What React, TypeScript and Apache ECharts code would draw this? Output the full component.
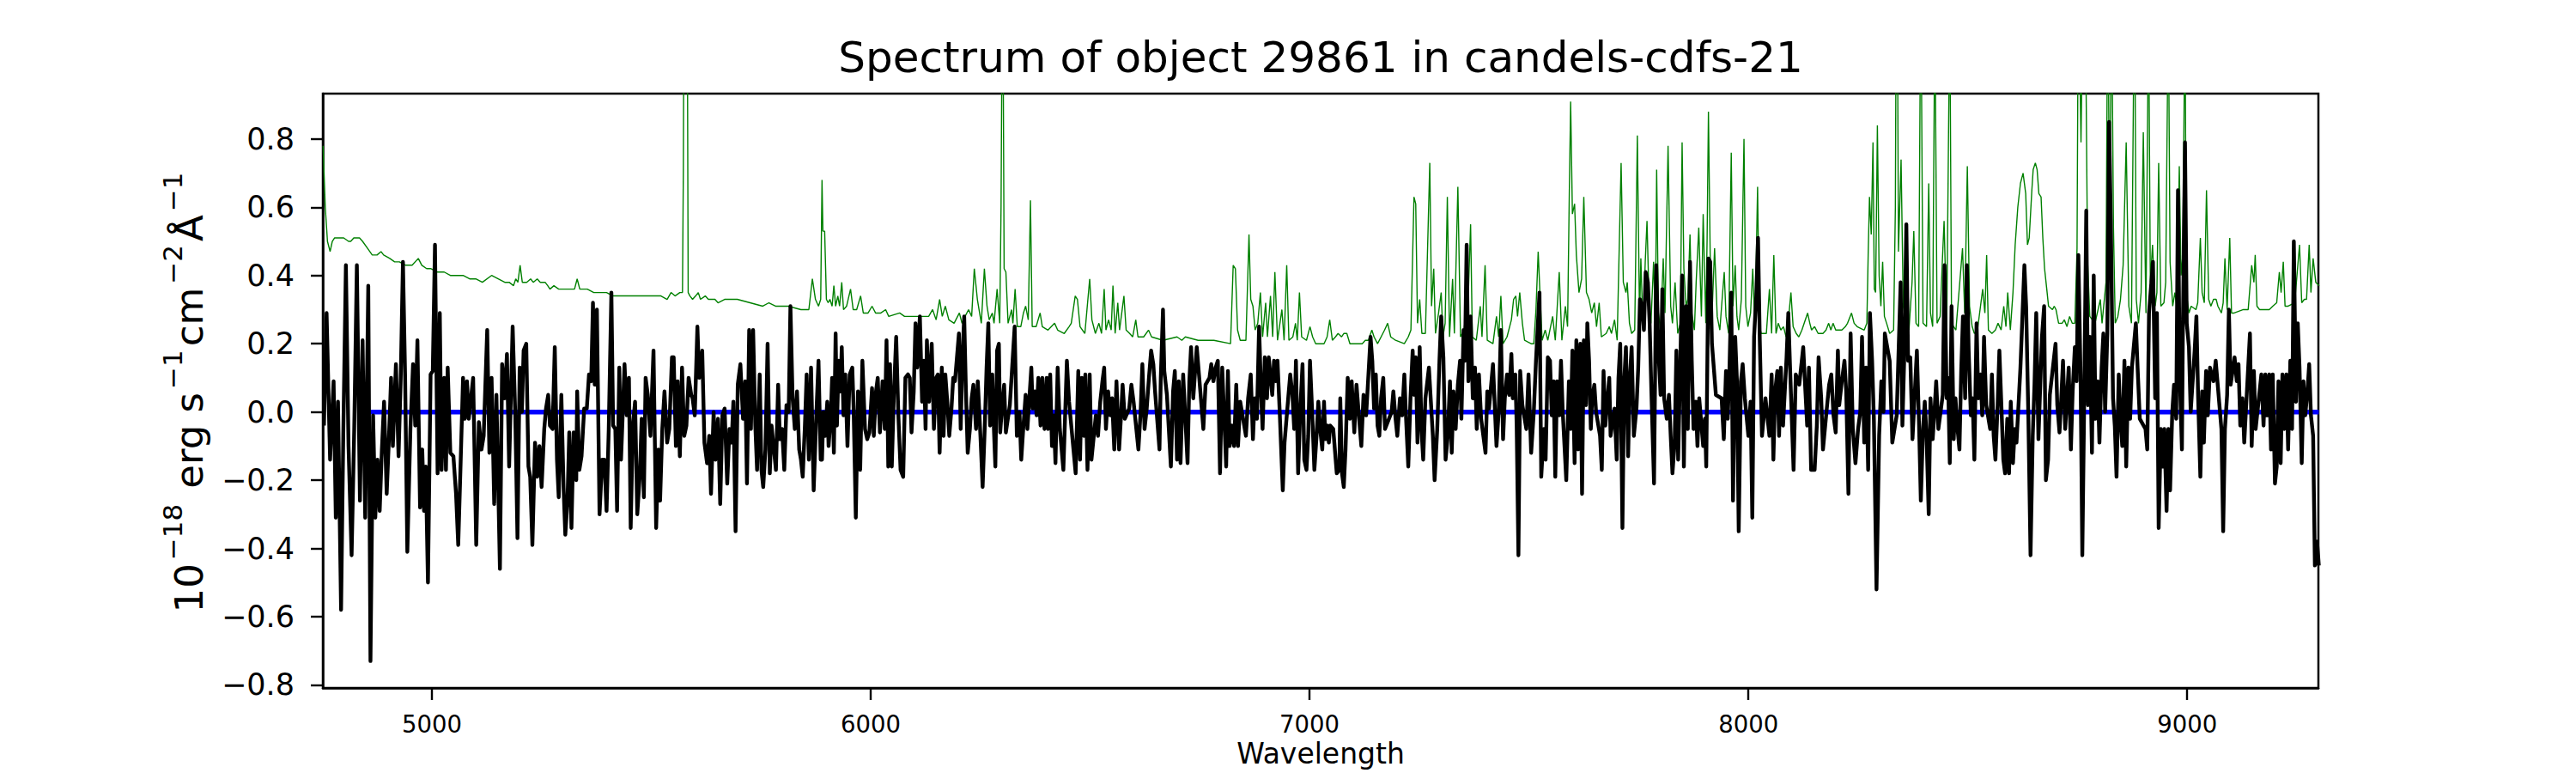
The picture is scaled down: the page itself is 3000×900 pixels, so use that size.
import React, { useEffect, useRef } from "react";
import * as echarts from "echarts";

const TITLE = "Spectrum of object 29861 in candels-cdfs-21";
const X_LABEL = "Wavelength";
const xTicks = [5000, 6000, 7000, 8000, 9000];
const yTicks = [-0.8, -0.6, -0.4, -0.2, 0.0, 0.2, 0.4, 0.6, 0.8];
const xRange = [4751.5, 9299];
const yRange = [-0.809, 0.933];
const zeroLine = [[4860, 0], [9300, 0]];

// object spectrum (black), wavelength [Å], flux [1e-18 erg/s/cm2/Å]
const fluxA = [[4754,-0.04],[4760,0.29],[4768,-0.14],[4776,0.09],[4781,-0.31],[4786,0.03],[4793,-0.58],[4798,-0.07],[4804,0.43],[4810,-0.10],[4817,-0.42],[4823,-0.05],[4829,0.43],[4836,-0.26],[4842,0.21],[4848,-0.31],[4855,0.37],[4860,-0.73],[4866,-0.01],[4871,-0.31],[4876,-0.14],[4881,-0.29],[4886,-0.11],[4891,0.03],[4897,-0.24],[4902,-0.08],[4907,0.10],[4911,-0.10],[4918,0.14],[4924,-0.13],[4929,0.10],[4934,0.44],[4939,0.10],[4944,-0.41],[4951,-0.05],[4957,0.14],[4962,-0.04],[4967,0.21],[4973,-0.28],[4978,-0.11],[4982,-0.29],[4986,-0.16],[4991,-0.50],[4997,0.11],[5002,0.12],[5007,0.49],[5013,-0.18],[5018,0.29],[5022,-0.17],[5028,0.10],[5032,-0.17],[5036,0.13],[5042,-0.12],[5049,-0.13],[5055,-0.24],[5060,-0.39],[5065,-0.17],[5071,0.10],[5075,-0.02],[5080,0.09],[5084,-0.02],[5089,0.04],[5094,0.10],[5101,-0.39],[5107,-0.03],[5113,-0.11],[5118,-0.07],[5126,0.24],[5131,-0.12],[5136,0.10],[5142,-0.27],[5147,0.05],[5155,-0.46],[5160,0.14],[5166,0.04],[5171,0.17],[5176,-0.16],[5184,0.25],[5190,-0.01],[5195,-0.37],[5200,0.13],[5205,0.00],[5209,0.18],[5215,0.20],[5220,-0.16],[5224,-0.19],[5229,-0.39],[5235,-0.09],[5240,-0.19],[5245,-0.10],[5250,-0.22],[5256,-0.05],[5260,0.01],[5265,0.05],[5269,-0.04],[5275,-0.05],[5280,0.19],[5285,-0.14],[5289,-0.25],[5295,0.05],[5300,-0.22],[5304,-0.36],[5309,-0.26],[5313,-0.06],[5318,-0.34],[5323,-0.06],[5329,-0.20],[5331,0.06],[5336,-0.17],[5341,-0.13],[5347,0.01],[5353,0.01],[5358,0.11],[5363,0.09],[5367,0.32],[5371,0.08],[5376,0.30],[5382,-0.30],[5388,-0.14],[5393,-0.14],[5398,-0.29],[5403,-0.05],[5409,0.35],[5413,-0.04],[5418,-0.05],[5422,-0.29],[5427,0.13],[5431,-0.14],[5439,0.14],[5444,-0.01],[5449,0.10],[5453,-0.34],[5458,-0.04],[5463,0.03],[5468,-0.30],[5474,-0.18],[5478,-0.02],[5483,-0.25],[5487,0.10],[5492,0.05],[5498,-0.07],[5505,0.18],[5511,-0.34],[5516,-0.11],[5520,-0.26],[5525,-0.05],[5530,0.06],[5536,-0.09],[5541,-0.05],[5547,0.16],[5551,0.16],[5556,-0.10],[5560,0.09],[5565,-0.13],[5570,0.13],[5575,-0.07],[5580,-0.04],[5585,0.10],[5591,0.05],[5594,0.04],[5599,-0.01],[5605,0.25],[5609,0.10],[5616,0.18],[5621,-0.09],[5627,-0.15],[5632,-0.07],[5636,-0.24],[5642,0.00],[5646,-0.14],[5652,-0.02],[5657,-0.27],[5662,-0.01],[5667,0.01],[5673,-0.21],[5678,-0.05],[5683,-0.09],[5687,0.03],[5692,-0.35],[5697,0.08],[5703,0.14],[5709,-0.02],[5714,0.09],[5718,-0.21],[5723,0.24],[5727,-0.05],[5732,0.24],[5737,-0.04],[5741,-0.17],[5747,0.11],[5751,-0.17],[5755,-0.22],[5760,-0.11],[5765,0.20],[5770,-0.18],[5774,-0.04],[5784,-0.17],[5789,0.08],[5793,-0.08],[5798,-0.05],[5803,-0.17],[5808,0.02],[5813,0.00],[5817,0.31],[5822,0.04],[5827,-0.05],[5832,0.06],[5837,-0.11],[5841,-0.14],[5845,-0.19],[5850,-0.04],[5854,0.11],[5859,-0.14],[5864,0.13],[5870,-0.23],[5876,-0.01],[5881,0.15],[5886,-0.14]];
const fluxB = [[5889,-0.14],[5892,0.00],[5896,-0.07],[5901,0.03],[5904,-0.10],[5909,-0.01],[5912,0.10],[5916,-0.12],[5920,0.23],[5923,-0.04],[5927,0.15],[5931,0.06],[5934,0.19],[5938,-0.01],[5942,0.11],[5947,-0.10],[5952,0.11],[5958,0.13],[5961,0.01],[5966,-0.31],[5971,0.06],[5976,-0.17],[5981,0.15],[5987,-0.05],[5992,-0.08],[5997,-0.06],[6003,0.07],[6007,-0.07],[6012,0.06],[6016,0.10],[6021,-0.06],[6027,0.09],[6032,-0.05],[6036,0.21],[6040,-0.16],[6044,0.14],[6048,-0.16],[6053,0.06],[6058,0.22],[6063,-0.01],[6068,-0.17],[6074,-0.19],[6079,0.10],[6085,0.11],[6089,0.10],[6093,-0.06],[6098,0.06],[6102,0.26],[6106,0.13],[6112,0.28],[6117,0.03],[6121,0.15],[6125,-0.05],[6128,0.21],[6133,0.03],[6139,0.20],[6144,-0.05],[6149,0.10],[6153,0.11],[6157,-0.12],[6162,0.13],[6166,-0.07],[6170,0.11],[6175,0.02],[6179,-0.07],[6184,0.01],[6188,0.10],[6192,0.09],[6201,0.23],[6205,-0.05],[6209,0.16],[6213,0.28],[6217,0.06],[6221,-0.12],[6226,-0.05],[6230,0.04],[6234,0.08],[6240,-0.05],[6244,0.09],[6250,-0.07],[6255,-0.22],[6260,-0.04],[6264,0.13],[6268,0.26],[6272,-0.04],[6277,0.11],[6281,-0.06],[6284,-0.16],[6288,0.18],[6292,0.20],[6295,-0.06],[6299,0.01],[6304,0.08],[6308,-0.06],[6317,0.02],[6328,0.25],[6333,-0.07],[6339,0.00],[6343,-0.14],[6348,-0.04],[6353,0.05],[6357,-0.05],[6366,0.13],[6369,0.01],[6374,0.06],[6378,-0.01],[6382,0.10],[6387,-0.04],[6391,0.10],[6396,-0.05],[6401,0.10],[6404,-0.05],[6409,0.11],[6413,-0.10],[6417,-0.01],[6421,-0.15],[6426,0.13],[6431,-0.05],[6439,-0.17],[6447,0.15],[6452,0.03],[6457,-0.04],[6467,-0.18],[6473,0.12],[6477,-0.14],[6481,0.10],[6486,-0.07],[6489,0.11],[6494,-0.17],[6499,0.11],[6503,-0.14],[6513,-0.01],[6518,-0.07],[6523,0.03],[6528,0.09],[6532,0.13],[6536,-0.05],[6541,0.06],[6546,-0.01],[6550,0.04],[6555,-0.11],[6560,0.09],[6566,-0.11],[6570,-0.02],[6574,0.08],[6579,-0.02],[6589,0.01],[6594,0.08],[6599,0.03],[6610,-0.11],[6615,0.00],[6619,0.14],[6624,-0.05],[6629,0.01],[6634,0.10],[6639,0.18],[6644,0.14],[6648,0.06],[6658,-0.11],[6661,0.10],[6666,0.30],[6669,0.12],[6675,0.05],[6684,-0.16],[6689,0.06],[6693,0.12],[6698,-0.14],[6702,0.09],[6706,-0.15],[6712,0.11],[6722,-0.15],[6726,0.09],[6730,0.19],[6735,0.04],[6743,0.19],[6748,0.11],[6758,-0.05],[6763,0.08],[6772,0.10],[6776,0.14],[6781,0.09],[6786,0.13],[6791,0.15],[6796,-0.18],[6801,0.13],[6810,-0.16],[6814,0.12],[6818,-0.10],[6823,-0.04],[6828,-0.10],[6833,0.08],[6837,-0.10],[6842,0.03],[6855,-0.07],[6860,0.04],[6866,0.11],[6871,-0.08],[6875,0.04],[6880,-0.02],[6885,0.25],[6890,0.04],[6893,-0.05],[6898,0.16],[6903,0.04],[6907,0.16],[6915,0.05],[6919,0.15],[6923,0.09],[6927,0.15],[6932,0.00],[6939,-0.23],[6943,-0.09],[6952,0.05],[6956,0.11],[6961,0.05],[6965,-0.05],[6969,0.15],[6974,-0.18],[6979,0.01],[6984,0.14],[6988,-0.14],[6993,-0.17],[6997,-0.07],[7001,0.15],[7006,0.00],[7011,-0.17],[7016,-0.07],[7020,0.03],[7025,-0.06]];
const fluxC = [[7029,-0.11],[7033,0.03],[7036,-0.08],[7040,-0.04],[7044,-0.09],[7047,-0.04],[7054,-0.05],[7062,-0.18],[7068,-0.17],[7070,0.04],[7074,-0.18],[7078,-0.22],[7082,-0.11],[7087,0.10],[7092,-0.02],[7096,0.09],[7102,-0.06],[7107,0.08],[7113,-0.02],[7118,-0.10],[7123,0.05],[7129,-0.01],[7139,0.22],[7143,0.15],[7147,0.01],[7151,0.11],[7155,-0.04],[7159,-0.07],[7163,0.04],[7168,0.10],[7172,-0.05],[7187,0.00],[7191,0.06],[7196,-0.02],[7200,-0.07],[7206,0.04],[7211,-0.01],[7216,0.11],[7220,-0.02],[7225,-0.16],[7230,0.04],[7235,0.18],[7238,0.05],[7242,0.16],[7246,-0.09],[7251,0.19],[7255,-0.05],[7259,-0.14],[7264,0.04],[7272,0.13],[7281,-0.07],[7285,-0.20],[7291,-0.05],[7296,0.15],[7300,0.28],[7305,0.16],[7310,-0.14],[7315,-0.07],[7320,0.09],[7324,-0.12],[7328,0.06],[7333,-0.05],[7338,0.08],[7343,0.15],[7346,-0.02],[7351,0.24],[7354,0.15],[7358,0.49],[7362,0.09],[7367,0.28],[7372,0.04],[7377,0.13],[7381,-0.05],[7386,0.11],[7391,-0.02],[7401,-0.12],[7405,0.06],[7409,0.01],[7418,0.14],[7426,-0.10],[7431,0.00],[7436,0.24],[7441,-0.08],[7445,0.04],[7450,0.11],[7455,0.05],[7460,0.17],[7463,0.04],[7469,0.11],[7472,-0.04],[7476,-0.42],[7480,0.12],[7485,0.02],[7494,-0.05],[7499,0.11],[7505,-0.12],[7511,0.00],[7516,0.15],[7524,0.35],[7528,-0.19],[7534,-0.05],[7538,-0.14],[7543,0.16],[7548,0.15],[7552,-0.01],[7556,0.09],[7560,-0.19],[7564,0.09],[7569,-0.01],[7573,0.15],[7577,0.00],[7585,-0.20],[7591,0.09],[7595,-0.05],[7599,0.18],[7604,-0.15],[7608,0.21],[7612,-0.11],[7617,0.20],[7621,-0.24],[7625,0.21],[7630,0.02],[7633,0.26],[7637,0.15],[7641,-0.05],[7644,0.04],[7649,0.08],[7653,0.00],[7662,-0.07],[7666,-0.17],[7670,0.12],[7674,-0.04],[7679,0.04],[7683,0.10],[7686,-0.07],[7695,0.01],[7700,-0.14],[7704,0.10],[7708,0.20],[7713,-0.34],[7717,0.09],[7721,0.19],[7726,-0.13],[7730,0.10],[7734,0.19],[7739,-0.07],[7745,0.01],[7749,0.13],[7753,0.33],[7758,0.31],[7762,0.24],[7766,0.41],[7771,0.38],[7775,0.26],[7779,0.06],[7785,-0.21],[7790,0.43],[7795,0.18],[7800,0.05],[7804,0.36],[7808,0.04],[7814,-0.02],[7819,0.05],[7823,-0.07],[7827,-0.18],[7832,-0.09],[7836,0.18],[7840,-0.14],[7845,0.15],[7849,0.40],[7853,-0.16],[7858,0.31],[7862,-0.05],[7867,0.44],[7871,0.15],[7875,-0.05],[7880,0.03],[7884,-0.10],[7888,0.04],[7897,-0.10],[7901,-0.02],[7904,-0.16],[7909,0.45],[7913,0.44],[7917,0.20],[7926,0.05],[7939,0.04],[7944,-0.08],[7949,0.12],[7953,-0.02],[7957,0.13],[7961,0.35],[7965,-0.26],[7970,0.22],[7974,0.09],[7978,-0.35],[7983,0.09],[7987,0.14],[7992,0.04],[8000,-0.07],[8005,0.03],[8009,-0.31],[8013,0.22],[8018,0.34],[8022,0.51],[8026,0.21],[8031,-0.07],[8039,0.04],[8048,-0.07],[8053,0.11],[8057,-0.14],[8061,0.06],[8066,0.12],[8070,-0.07],[8074,0.13],[8079,-0.04],[8087,0.16],[8091,0.29],[8095,0.13],[8103,-0.17],[8108,0.11],[8116,0.08],[8125,0.19],[8130,0.06],[8134,-0.04],[8138,0.13],[8143,-0.17],[8151,-0.17],[8156,-0.04],[8160,0.16]];
const fluxD = [[8166,0.04],[8170,-0.11],[8178,0.00],[8184,0.08],[8189,0.11],[8194,-0.01],[8199,-0.06],[8204,0.18],[8207,0.02],[8213,0.09],[8219,0.15],[8223,0.06],[8228,-0.24],[8233,0.23],[8238,-0.05],[8244,-0.15],[8250,-0.05],[8255,0.00],[8259,0.22],[8264,-0.09],[8268,0.13],[8273,-0.17],[8277,0.29],[8282,0.15],[8286,-0.02],[8292,-0.52],[8298,-0.07],[8303,0.09],[8308,0.00],[8311,0.23],[8322,0.15],[8328,-0.09],[8338,-0.01],[8347,0.38],[8351,-0.04],[8355,0.15],[8360,0.55],[8364,0.15],[8369,0.16],[8374,-0.08],[8384,0.18],[8389,-0.04],[8393,-0.26],[8398,-0.05],[8402,0.03],[8406,-0.07],[8411,-0.30],[8415,0.04],[8420,-0.08],[8424,0.00],[8428,0.09],[8433,-0.05],[8443,0.05],[8447,0.43],[8452,0.04],[8455,0.10],[8459,-0.15],[8463,0.31],[8468,-0.08],[8472,0.04],[8476,-0.04],[8481,-0.11],[8485,0.12],[8489,0.28],[8494,0.04],[8498,0.43],[8502,0.18],[8507,-0.01],[8511,0.04],[8515,-0.14],[8520,0.26],[8524,0.04],[8529,0.11],[8533,-0.01],[8537,0.22],[8542,0.02],[8551,-0.05],[8555,0.11],[8559,-0.07],[8563,-0.14],[8568,0.02],[8572,0.18],[8576,0.04],[8581,-0.14],[8585,-0.18],[8590,-0.02],[8594,-0.18],[8598,0.03],[8603,-0.15],[8607,-0.05],[8611,-0.09],[8616,0.03],[8620,0.13],[8629,0.43],[8633,0.31],[8638,-0.01],[8643,-0.42],[8648,-0.07],[8652,0.08],[8656,0.29],[8661,-0.08],[8669,0.22],[8674,0.31],[8678,-0.20],[8683,-0.14],[8687,0.05],[8700,0.20],[8704,0.02],[8709,-0.06],[8713,0.04],[8717,0.15],[8722,-0.05],[8730,0.13],[8735,-0.11],[8739,0.06],[8744,0.19],[8748,0.09],[8752,0.46],[8757,0.11],[8761,-0.42],[8765,0.00],[8770,0.59],[8774,0.02],[8778,0.22],[8783,-0.12],[8787,0.40],[8791,-0.02],[8796,0.09],[8800,-0.09],[8805,0.13],[8809,0.23],[8813,0.00],[8818,0.23],[8822,0.85],[8826,0.56],[8831,0.04],[8835,-0.04],[8839,-0.19],[8844,0.11],[8848,-0.02],[8852,-0.10],[8857,0.15],[8861,-0.16],[8866,0.13],[8870,-0.02],[8874,0.13],[8883,0.26],[8887,0.13],[8892,-0.02],[8905,-0.05],[8909,-0.11],[8913,0.29],[8922,0.44],[8927,0.04],[8931,0.29],[8935,-0.34],[8940,-0.05],[8944,-0.16],[8948,-0.05],[8953,-0.29],[8957,-0.05],[8961,-0.23],[8966,0.00],[8970,0.08],[8975,-0.02],[8979,0.65],[8983,0.11],[8988,-0.11],[8990,0.22],[8995,0.79],[8999,0.26],[9004,0.19],[9008,0.00],[9017,0.18],[9021,0.28],[9025,0.04],[9030,-0.19],[9034,0.06],[9038,-0.09],[9043,0.12],[9047,-0.01],[9052,0.13],[9060,0.09],[9065,0.15],[9078,-0.05],[9082,-0.35],[9086,-0.05],[9091,0.05],[9095,0.30],[9099,0.08],[9108,0.16],[9113,0.09],[9117,0.14],[9121,-0.04],[9126,0.04],[9130,-0.09],[9143,0.23],[9147,-0.10],[9152,0.12],[9156,-0.05],[9165,0.06],[9169,0.11],[9174,-0.04],[9178,0.11],[9182,-0.01],[9187,0.11],[9191,-0.11],[9195,0.11],[9200,-0.21],[9204,-0.16],[9208,0.09],[9213,-0.15],[9217,0.11],[9221,-0.05],[9226,0.11],[9230,-0.11],[9235,0.15],[9239,-0.05],[9243,0.50],[9248,0.03],[9252,0.26],[9256,0.13],[9261,-0.15],[9265,0.09],[9269,-0.01],[9274,0.06],[9278,0.14],[9282,-0.01],[9287,-0.07],[9291,-0.45],[9296,-0.38],[9300,-0.45]];

// sky / noise spectrum (green)
const skyA = [[4752,0.78],[4757,0.60],[4762,0.50],[4768,0.47],[4773,0.50],[4778,0.51],[4788,0.51],[4799,0.51],[4810,0.50],[4815,0.50],[4822,0.51],[4835,0.51],[4842,0.50],[4853,0.48],[4864,0.46],[4875,0.46],[4884,0.47],[4890,0.46],[4904,0.45],[4915,0.44],[4926,0.44],[4940,0.43],[4955,0.43],[4969,0.45],[4977,0.43],[4988,0.42],[4998,0.42],[5013,0.41],[5028,0.41],[5042,0.40],[5057,0.40],[5071,0.40],[5086,0.39],[5100,0.39],[5115,0.38],[5136,0.40],[5151,0.39],[5166,0.38],[5176,0.38],[5186,0.37],[5191,0.39],[5196,0.38],[5201,0.43],[5206,0.38],[5216,0.38],[5225,0.39],[5231,0.38],[5240,0.39],[5247,0.38],[5258,0.38],[5264,0.37],[5269,0.36],[5278,0.37],[5289,0.36],[5304,0.36],[5325,0.36],[5331,0.39],[5337,0.36],[5354,0.36],[5369,0.35],[5384,0.35],[5398,0.35],[5413,0.34],[5434,0.34],[5463,0.34],[5500,0.34],[5522,0.34],[5536,0.33],[5545,0.35],[5554,0.34],[5565,0.35],[5571,0.35],[5573,0.71],[5575,1.5],[5579,1.6],[5582,1.2],[5584,0.35],[5588,0.34],[5594,0.33],[5601,0.34],[5607,0.35],[5612,0.33],[5623,0.34],[5630,0.33],[5645,0.33],[5652,0.32],[5667,0.33],[5696,0.33],[5725,0.32],[5754,0.31],[5768,0.32],[5783,0.31],[5812,0.31],[5841,0.30],[5859,0.30],[5867,0.39],[5874,0.33],[5881,0.31],[5886,0.33]];
const skyB = [[5889,0.68],[5891,0.53],[5895,0.53],[5899,0.33],[5903,0.32],[5907,0.33],[5912,0.31],[5916,0.37],[5920,0.31],[5925,0.34],[5929,0.31],[5934,0.38],[5938,0.30],[5945,0.31],[5954,0.36],[5960,0.30],[5968,0.30],[5977,0.34],[5983,0.29],[5994,0.29],[6003,0.31],[6011,0.29],[6023,0.29],[6034,0.30],[6041,0.28],[6066,0.29],[6077,0.28],[6106,0.28],[6132,0.28],[6141,0.30],[6149,0.27],[6157,0.33],[6163,0.28],[6170,0.31],[6178,0.27],[6190,0.26],[6202,0.29],[6208,0.26],[6215,0.28],[6223,0.30],[6230,0.28],[6236,0.42],[6243,0.33],[6252,0.26],[6259,0.42],[6265,0.31],[6270,0.27],[6277,0.29],[6281,0.26],[6288,0.36],[6294,0.26],[6297,0.60],[6300,1.3],[6302,1.0],[6304,0.42],[6308,0.41],[6313,0.26],[6321,0.30],[6324,0.26],[6329,0.36],[6334,0.25],[6342,0.25],[6348,0.29],[6353,0.31],[6359,0.27],[6364,0.62],[6368,0.25],[6377,0.25],[6386,0.29],[6391,0.25],[6404,0.24],[6419,0.26],[6426,0.24],[6441,0.23],[6452,0.25],[6457,0.26],[6466,0.34],[6471,0.33],[6477,0.25],[6488,0.23],[6499,0.39],[6504,0.27],[6512,0.23],[6520,0.26],[6526,0.23],[6532,0.36],[6536,0.24],[6542,0.27],[6548,0.24],[6552,0.37],[6557,0.23],[6563,0.32],[6567,0.24],[6577,0.34],[6582,0.24],[6590,0.23],[6597,0.22],[6604,0.27],[6609,0.22],[6622,0.22],[6633,0.24],[6640,0.22],[6666,0.21],[6698,0.22],[6709,0.21],[6717,0.22],[6746,0.21],[6782,0.21],[6820,0.20],[6826,0.43],[6831,0.42],[6836,0.24],[6842,0.21],[6855,0.21],[6862,0.52],[6866,0.33],[6871,0.31],[6876,0.24],[6882,0.26],[6888,0.35],[6893,0.22],[6900,0.32],[6904,0.22],[6911,0.34],[6916,0.22],[6921,0.41],[6927,0.21],[6937,0.30],[6942,0.21],[6948,0.43],[6953,0.21],[6962,0.22],[6968,0.26],[6972,0.21],[6977,0.35],[6982,0.22],[6993,0.21],[7001,0.25],[7007,0.22],[7014,0.20]];
const skyC = [[7025,0.20],[7033,0.20],[7040,0.22],[7046,0.27],[7052,0.21],[7059,0.22],[7065,0.23],[7073,0.22],[7078,0.23],[7085,0.23],[7092,0.20],[7120,0.20],[7127,0.21],[7134,0.21],[7142,0.24],[7147,0.22],[7155,0.20],[7163,0.22],[7171,0.24],[7178,0.26],[7185,0.22],[7196,0.21],[7216,0.20],[7225,0.22],[7231,0.24],[7238,0.63],[7242,0.61],[7246,0.26],[7251,0.33],[7256,0.23],[7264,0.23],[7274,0.73],[7278,0.31],[7283,0.42],[7287,0.23],[7294,0.29],[7300,0.35],[7304,0.22],[7309,0.26],[7314,0.63],[7319,0.22],[7326,0.39],[7330,0.23],[7338,0.66],[7344,0.22],[7352,0.24],[7358,0.31],[7362,0.35],[7367,0.55],[7371,0.22],[7380,0.21],[7389,0.31],[7393,0.22],[7400,0.43],[7405,0.21],[7418,0.20],[7426,0.28],[7431,0.22],[7436,0.34],[7441,0.20],[7450,0.22],[7460,0.27],[7465,0.33],[7470,0.34],[7474,0.28],[7479,0.35],[7485,0.26],[7490,0.21],[7505,0.20],[7511,0.20],[7516,0.30],[7521,0.47],[7525,0.35],[7530,0.21],[7537,0.24],[7543,0.21],[7554,0.28],[7560,0.21],[7569,0.41],[7575,0.21],[7583,0.31],[7588,0.25],[7592,0.65],[7595,0.91],[7599,0.58],[7604,0.61],[7608,0.46],[7614,0.35],[7620,0.39],[7625,0.63],[7631,0.35],[7637,0.33],[7643,0.29],[7649,0.32],[7654,0.25],[7660,0.32],[7665,0.22],[7676,0.23],[7683,0.25],[7688,0.23],[7695,0.27],[7701,0.21],[7710,0.73],[7715,0.38],[7721,0.35],[7724,0.38],[7729,0.26],[7734,0.23],[7741,0.24],[7747,0.81],[7752,0.27],[7755,0.45],[7760,0.24],[7765,0.44],[7769,0.56],[7774,0.31],[7778,0.26],[7784,0.44],[7788,0.26],[7791,0.71],[7795,0.29],[7800,0.24],[7806,0.45],[7810,0.29],[7817,0.78],[7823,0.31],[7827,0.26],[7833,0.38],[7839,0.23],[7845,0.26],[7849,0.79],[7853,0.42],[7858,0.31],[7862,0.33],[7867,0.52],[7871,0.29],[7877,0.24],[7881,0.38],[7887,0.54],[7893,0.28],[7897,0.58],[7903,0.26],[7906,0.51],[7909,0.88],[7913,0.46],[7917,0.28],[7923,0.48],[7929,0.28],[7935,0.24],[7939,0.31],[7945,0.41],[7949,0.28],[7955,0.23],[7961,0.76],[7965,0.31],[7970,0.43],[7974,0.28],[7978,0.24],[7984,0.33],[7990,0.80],[7994,0.31],[7999,0.25],[8005,0.29],[8010,0.42],[8015,0.24],[8021,0.66],[8025,0.26],[8029,0.23],[8041,0.23],[8048,0.36],[8053,0.23],[8058,0.46],[8063,0.23],[8068,0.26],[8074,0.24],[8080,0.25],[8086,0.22],[8092,0.28],[8097,0.35],[8102,0.25],[8109,0.23],[8115,0.22],[8122,0.24],[8135,0.29],[8140,0.26],[8144,0.24],[8151,0.25],[8159,0.23]];
const skyD = [[8162,0.23],[8170,0.23],[8177,0.24],[8183,0.26],[8188,0.24],[8193,0.26],[8199,0.24],[8213,0.24],[8221,0.25],[8226,0.26],[8235,0.29],[8241,0.26],[8248,0.25],[8264,0.24],[8270,0.26],[8273,0.46],[8276,0.63],[8280,0.52],[8284,0.79],[8287,0.36],[8290,0.35],[8294,0.84],[8298,0.40],[8302,0.31],[8306,0.44],[8310,0.28],[8315,0.26],[8322,0.23],[8331,0.24],[8335,0.60],[8337,1.3],[8340,1.1],[8342,0.47],[8348,0.74],[8353,0.31],[8357,0.28],[8366,0.24],[8373,0.38],[8377,0.53],[8382,0.26],[8388,0.25],[8393,1.3],[8398,0.26],[8406,0.25],[8411,0.67],[8415,0.29],[8420,0.25],[8425,1.2],[8430,0.26],[8437,0.28],[8442,0.44],[8446,0.56],[8452,0.25],[8459,1.2],[8463,0.26],[8473,0.24],[8488,0.48],[8493,0.29],[8499,0.72],[8504,0.31],[8510,0.25],[8515,0.23],[8522,0.24],[8529,0.31],[8534,0.36],[8539,0.29],[8543,0.46],[8547,0.24],[8555,0.23],[8563,0.24],[8569,0.26],[8576,0.24],[8582,0.31],[8587,0.25],[8591,0.35],[8597,0.24],[8603,0.35],[8608,0.49],[8614,0.60],[8620,0.67],[8626,0.70],[8632,0.64],[8636,0.49],[8640,0.51],[8646,0.65],[8649,0.71],[8654,0.73],[8658,0.71],[8662,0.64],[8667,0.63],[8671,0.51],[8675,0.42],[8680,0.36],[8684,0.31],[8693,0.30],[8697,0.31],[8701,0.30],[8707,0.26],[8715,0.26],[8720,0.27],[8726,0.25],[8732,0.28],[8738,0.26],[8744,0.26],[8749,0.48],[8752,1.3],[8758,0.79],[8762,1.2],[8768,1.2],[8773,0.44],[8778,0.28],[8790,0.26],[8802,0.33],[8806,0.26],[8815,0.38],[8819,1.3],[8823,0.56],[8828,1.2],[8832,0.54],[8836,0.26],[8842,0.28],[8848,0.33],[8854,0.43],[8861,0.79],[8867,0.31],[8873,0.26],[8880,1.3],[8884,0.33],[8889,0.26],[8895,0.35],[8900,0.82],[8906,0.29],[8912,1.2],[8916,0.38],[8921,0.49],[8927,0.31],[8931,0.35],[8935,0.73],[8940,0.31],[8947,0.32],[8951,0.38],[8957,1.2],[8961,0.44],[8967,0.31],[8972,0.35],[8977,0.30],[8982,0.72],[8986,0.40],[8990,0.46],[8995,1.2],[8998,0.35],[9004,0.29],[9009,0.31],[9020,0.30],[9024,0.32],[9030,0.51],[9034,0.35],[9039,0.32],[9044,0.65],[9049,0.33],[9054,0.31],[9060,0.33],[9066,0.33],[9070,0.31],[9078,0.29],[9082,0.32],[9086,0.45],[9091,0.30],[9097,0.51],[9101,0.29],[9107,0.29],[9128,0.30],[9139,0.30],[9147,0.43],[9152,0.38],[9155,0.46],[9159,0.31],[9165,0.30],[9176,0.30],[9187,0.30],[9195,0.31],[9204,0.32],[9210,0.41],[9214,0.35],[9219,0.44],[9223,0.31],[9230,0.31],[9245,0.32],[9256,0.49],[9261,0.32],[9267,0.33],[9272,0.33],[9278,0.49],[9282,0.35],[9287,0.45],[9293,0.38],[9301,0.37]];

const FONT = "DejaVu Sans";

export default function App() {
  const ref = useRef<HTMLDivElement>(null);
  useEffect(() => {
    document.body.style.margin = "0";
    if (!ref.current) return;
    const chart = echarts.init(ref.current, null, { renderer: "svg" });
    const objectSpectrum = [...fluxA, ...fluxB, ...fluxC, ...fluxD];
    const skySpectrum = [...skyA, ...skyB, ...skyC, ...skyD];
    const fmtY = (v: number) => v.toFixed(1).replace("-", "\u2212");
    const mainTok = { fontSize: 45, fontFamily: FONT, fill: "#000", lineHeight: 57, verticalAlign: "bottom" };
    const supTok = { fontSize: 31, fontFamily: FONT, fill: "#000", lineHeight: 31, verticalAlign: "top", padding: [0, 4, 0, 4] };
    chart.setOption({
      animation: false,
      backgroundColor: "#fff",
      grid: { left: 376, top: 109, width: 2324, height: 692, show: true, borderColor: "#000", borderWidth: 2.5, backgroundColor: "transparent", containLabel: false },
      xAxis: {
        type: "value", min: xRange[0], max: xRange[1],
        axisLine: { show: true, onZero: false, lineStyle: { color: "#000", width: 2.5 } },
        axisTick: { show: true, customValues: xTicks, length: 14, lineStyle: { color: "#000", width: 2.4 } },
        axisLabel: { show: true, customValues: xTicks, formatter: (v: number) => String(v), fontSize: 27.5, fontFamily: FONT, color: "#000", margin: 28 },
        splitLine: { show: false },
      },
      yAxis: {
        type: "value", min: yRange[0], max: yRange[1],
        axisLine: { show: true, onZero: false, lineStyle: { color: "#000", width: 2.5 } },
        axisTick: { show: true, customValues: yTicks, length: 14, lineStyle: { color: "#000", width: 2.4 } },
        axisLabel: { show: true, customValues: yTicks, formatter: fmtY, fontSize: 35, fontFamily: FONT, color: "#000", margin: 33 },
        splitLine: { show: false },
      },
      series: [
        { type: "line", data: skySpectrum, showSymbol: false, symbol: "none", clip: true, z: 1, lineStyle: { color: "#008000", width: 1.4 } },
        { type: "line", data: zeroLine, showSymbol: false, symbol: "none", clip: true, z: 2, lineStyle: { color: "#0000ff", width: 5.5 } },
        { type: "line", data: objectSpectrum, showSymbol: false, symbol: "none", clip: true, z: 3, lineStyle: { color: "#000", width: 4.4, join: "round" } },
      ],
      graphic: [
        { type: "text", x: 1538, y: 67, style: { text: TITLE, fontSize: 50, fontFamily: FONT, fill: "#000", align: "center", verticalAlign: "middle" } },
        { type: "text", x: 1538, y: 877, style: { text: X_LABEL, fontSize: 33, fontFamily: FONT, fill: "#000", align: "center", verticalAlign: "middle" } },
        {
          type: "text", x: 214, y: 455, rotation: Math.PI / 2,
          style: {
            text: "{m|10}{s|\u221218}{mp|erg s}{s|\u22121}{m|cm}{s|\u22122}{m|\u00c5}{s|\u22121}",
            align: "center", verticalAlign: "middle", fontFamily: FONT, fontSize: 45, fill: "#000",
            rich: { m: mainTok, mp: { ...mainTok, padding: [0, 0, 0, 14] }, s: supTok },
          },
        },
      ],
    });
    return () => chart.dispose();
  }, []);
  return <div ref={ref} style={{ width: 3000, height: 900 }} />;
}
